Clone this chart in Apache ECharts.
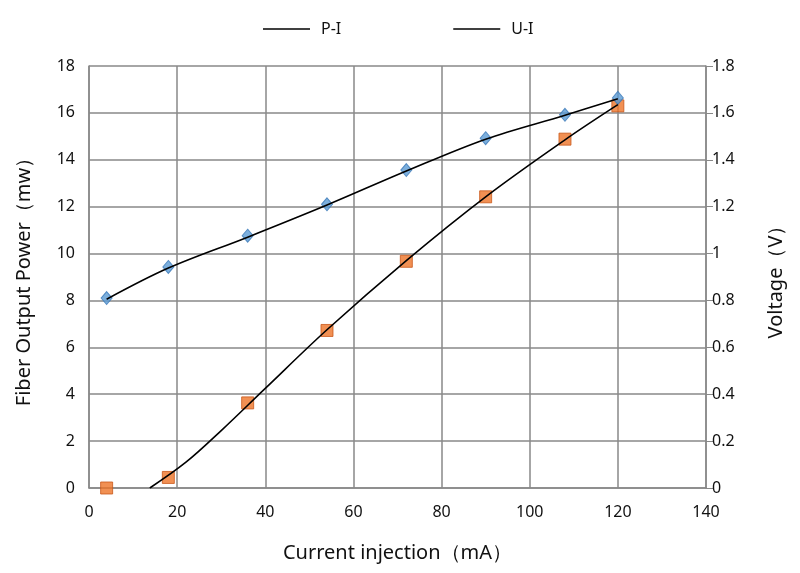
<!DOCTYPE html>
<html>
<head>
<meta charset="utf-8">
<script src="https://cdn.jsdelivr.net/npm/echarts@6/dist/echarts.min.js"></script>
<style>
html,body{margin:0;padding:0;background:#fff;}
#main{width:800px;height:573px;}
</style>
</head>
<body>
<div id="main"></div>
<script>
// measured points
var currentMA = [4, 18, 36, 54, 72, 90, 108, 120];
var powerMW = [0, 0.45, 3.63, 6.72, 9.67, 12.42, 14.88, 16.3];
var voltageV = [0.81, 0.943, 1.076, 1.21, 1.356, 1.492, 1.592, 1.664];

// trend lines
var piTrendX = [13.8, 22, 30, 40, 54, 72, 90, 108, 120];
var piTrendY = [0, 1.1, 2.45, 4.25, 6.75, 9.7, 12.42, 14.85, 16.35];
var uiTrendX = [4, 18, 36, 54, 72, 90, 108, 120];
var uiTrendY = [0.805, 0.938, 1.07, 1.207, 1.352, 1.488, 1.59, 1.66];

function pairs(xs, ys) {
    return xs.map(function (x, i) { return [x, ys[i]]; });
}

var font = 'Noto Sans';
var myChart = echarts.init(document.getElementById('main'));
var option = {
    animation: false,
    backgroundColor: '#fff',
    textStyle: { fontFamily: font },
    legend: {
        data: ['P-I', 'U-I'],
        top: 16,
        left: 258,
        itemGap: 112,
        itemWidth: 47,
        itemHeight: 12,
        icon: 'path://M0,5 L47,5 L47,6.6 L0,6.6 Z',
        textStyle: { fontFamily: font, fontSize: 16, color: '#111', padding: [0, 0, 0, 6] }
    },
    grid: { left: 89, right: 94, top: 66, bottom: 85 },
    xAxis: {
        type: 'value',
        min: 0, max: 140, interval: 20,
        name: 'Current injection（mA）',
        nameLocation: 'middle',
        nameGap: 55,
        nameTextStyle: { fontFamily: font, fontSize: 20, color: '#111' },
        axisLine: { show: true, lineStyle: { color: '#888', width: 1.5 } },
        axisTick: { show: false },
        axisLabel: { fontFamily: font, fontSize: 16, color: '#111', margin: 16 },
        splitLine: { show: true, lineStyle: { color: '#888', width: 1.5 } }
    },
    yAxis: [{
        type: 'value',
        min: 0, max: 18, interval: 2,
        name: 'Fiber Output Power（mw）',
        nameLocation: 'middle',
        nameRotate: 90,
        nameGap: 55,
        nameTextStyle: { fontFamily: font, fontSize: 20, color: '#111' },
        axisLine: { show: true, lineStyle: { color: '#888', width: 1.5 } },
        axisTick: { show: false },
        axisLabel: { fontFamily: font, fontSize: 16, color: '#111', margin: 14 },
        splitLine: { show: true, lineStyle: { color: '#888', width: 1.5 } }
    }, {
        type: 'value',
        position: 'right',
        min: 0, max: 1.8, interval: 0.2,
        name: 'Voltage（V）',
        nameLocation: 'middle',
        nameRotate: 90,
        nameGap: 60,
        nameTextStyle: { fontFamily: font, fontSize: 20, color: '#111' },
        axisLine: { show: true, lineStyle: { color: '#888', width: 1.5 } },
        axisTick: { show: true, length: 7, lineStyle: { color: '#888' } },
        axisLabel: { fontFamily: font, fontSize: 16, color: '#111', margin: 6 },
        splitLine: { show: false }
    }],
    series: [
        {
            name: 'P-I',
            type: 'line',
            yAxisIndex: 0,
            smooth: 0.35,
            showSymbol: false,
            symbol: 'none',
            lineStyle: { color: '#000', width: 1.6 },
            itemStyle: { color: '#000' },
            data: pairs(piTrendX, piTrendY),
            z: 3
        },
        {
            name: 'U-I',
            type: 'line',
            yAxisIndex: 1,
            smooth: 0.35,
            showSymbol: false,
            symbol: 'none',
            lineStyle: { color: '#000', width: 1.6 },
            itemStyle: { color: '#000' },
            data: pairs(uiTrendX, uiTrendY),
            z: 3
        },
        {
            name: 'power',
            type: 'scatter',
            yAxisIndex: 0,
            symbol: 'rect',
            symbolSize: 12,
            itemStyle: { color: '#EE7428', borderColor: '#C9581A', borderWidth: 1 },
            data: pairs(currentMA, powerMW),
            z: 2
        },
        {
            name: 'voltage',
            type: 'scatter',
            yAxisIndex: 1,
            symbol: 'diamond',
            symbolSize: [11, 13],
            itemStyle: { color: '#5B9BD5', borderColor: '#3A78B8', borderWidth: 1 },
            data: pairs(currentMA, voltageV),
            z: 2
        }
    ]
};
myChart.setOption(option);
</script>
</body>
</html>
